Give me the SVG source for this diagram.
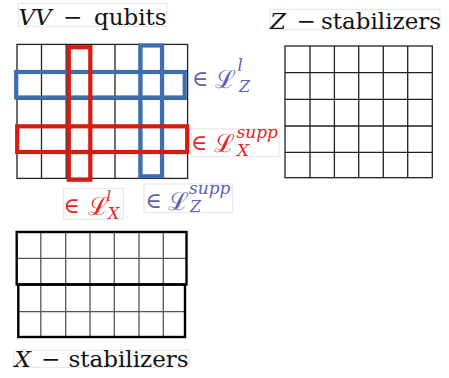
<svg xmlns="http://www.w3.org/2000/svg" width="449" height="378" viewBox="0 0 449 378">
<style>
.bg{fill:#fff}
.grid{stroke:#222;stroke-width:1.3;fill:none}
.xin{stroke:#555;stroke-width:1.3;fill:none}
.xout{stroke:#000;stroke-width:2.4;fill:none}
.blue{stroke:#3d6fb0;stroke-width:4.2;fill:none}
.red{stroke:#d81a10;stroke-width:4.2;fill:none}
.tbox{stroke:#e4e4e4;stroke-width:1;fill:none}
text{font-family:"DejaVu Serif",serif}
.title{font-size:23px;fill:#111}
.it{font-style:italic}
.bt{fill:#5b60b4}
.rt{fill:#e8241e}
</style>
<rect class="bg" x="0" y="0" width="449" height="378"/>

<g id="vv-qubits">
  <rect class="tbox" x="18.3" y="3.5" width="148.4" height="23.2"/>
  <text class="title" y="24.5"><tspan class="it" x="18.5">VV</tspan><tspan x="63">−</tspan><tspan x="94">qubits</tspan></text>
  <g class="grid">
    <rect x="17" y="44.4" width="170.6" height="134"/>
    <path d="M41.5 44.4V178.4M66.2 44.4V178.4M90.7 44.4V178.4M115 44.4V178.4M139.3 44.4V178.4M163.4 44.4V178.4M17 71H187.6M17 99H187.6M17 126H187.6M17 152.3H187.6"/>
  </g>
  <rect class="blue" x="16.2" y="72" width="168.5" height="25.5"/>
  <rect class="blue" x="140.5" y="45.5" width="21.5" height="130.8"/>
  <rect class="red" x="68.8" y="47.2" width="21.5" height="132.5"/>
  <rect class="red" x="17.2" y="126.3" width="170" height="25.7"/>
</g>

<g id="label-LZl">
  <text class="bt"><tspan x="192" y="86" font-size="22">∈</tspan><tspan x="215" y="88" font-size="25">ℒ</tspan><tspan class="it" x="237.5" y="71" font-size="16">l</tspan><tspan class="it" x="239" y="91.5" font-size="16">Z</tspan></text>
</g>

<g id="label-LXsupp">
  <rect class="tbox" x="191" y="129" width="88" height="27.7"/>
  <text class="rt"><tspan x="191" y="150" font-size="22">∈</tspan><tspan x="214" y="152" font-size="25">ℒ</tspan><tspan class="it" x="236.5" y="137.5" font-size="17">supp</tspan><tspan class="it" x="237" y="156" font-size="17">X</tspan></text>
</g>

<g id="label-LXl">
  <rect class="tbox" x="63.3" y="188.3" width="60" height="31"/>
  <text class="rt"><tspan x="63.5" y="213" font-size="22">∈</tspan><tspan x="88" y="215" font-size="25">ℒ</tspan><tspan class="it" x="106.5" y="200.5" font-size="14">l</tspan><tspan class="it" x="108" y="219" font-size="16">X</tspan></text>
</g>

<g id="label-LZsupp">
  <rect class="tbox" x="144" y="184" width="88.7" height="28.7"/>
  <text class="bt"><tspan x="145.5" y="208" font-size="22">∈</tspan><tspan x="168" y="210" font-size="25">ℒ</tspan><tspan class="it" x="189" y="193.5" font-size="17">supp</tspan><tspan class="it" x="190" y="212" font-size="16">Z</tspan></text>
</g>

<g id="z-stabilizers">
  <rect class="tbox" x="270" y="9.3" width="170" height="20"/>
  <text class="title" y="29"><tspan class="it" x="270">Z</tspan><tspan x="296.5">−</tspan><tspan x="321">stabilizers</tspan></text>
  <g class="grid">
    <rect x="285" y="46" width="147.3" height="131.7"/>
    <path d="M310 46V177.7M334.4 46V177.7M358.7 46V177.7M383.3 46V177.7M407.7 46V177.7M285 72.7H432.3M285 99.3H432.3M285 126H432.3M285 152.3H432.3"/>
  </g>
</g>

<g id="x-stabilizers">
  <g class="xin">
    <path d="M40.8 232V337M65.7 232V337M90 232V337M114.3 232V337M139 232V337M163.3 232V337M17 258.3H186M17 311.7H186"/>
  </g>
  <rect class="xout" x="16.7" y="232" width="169.8" height="52.5"/>
  <rect class="xout" x="18.3" y="284.5" width="166.7" height="52.5" stroke-width="2.8"/>
  <rect class="tbox" x="14" y="350" width="175" height="17.3"/>
  <text class="title" y="366.5"><tspan class="it" x="14.5">X</tspan><tspan x="41">−</tspan><tspan x="68.5">stabilizers</tspan></text>
</g>
</svg>
